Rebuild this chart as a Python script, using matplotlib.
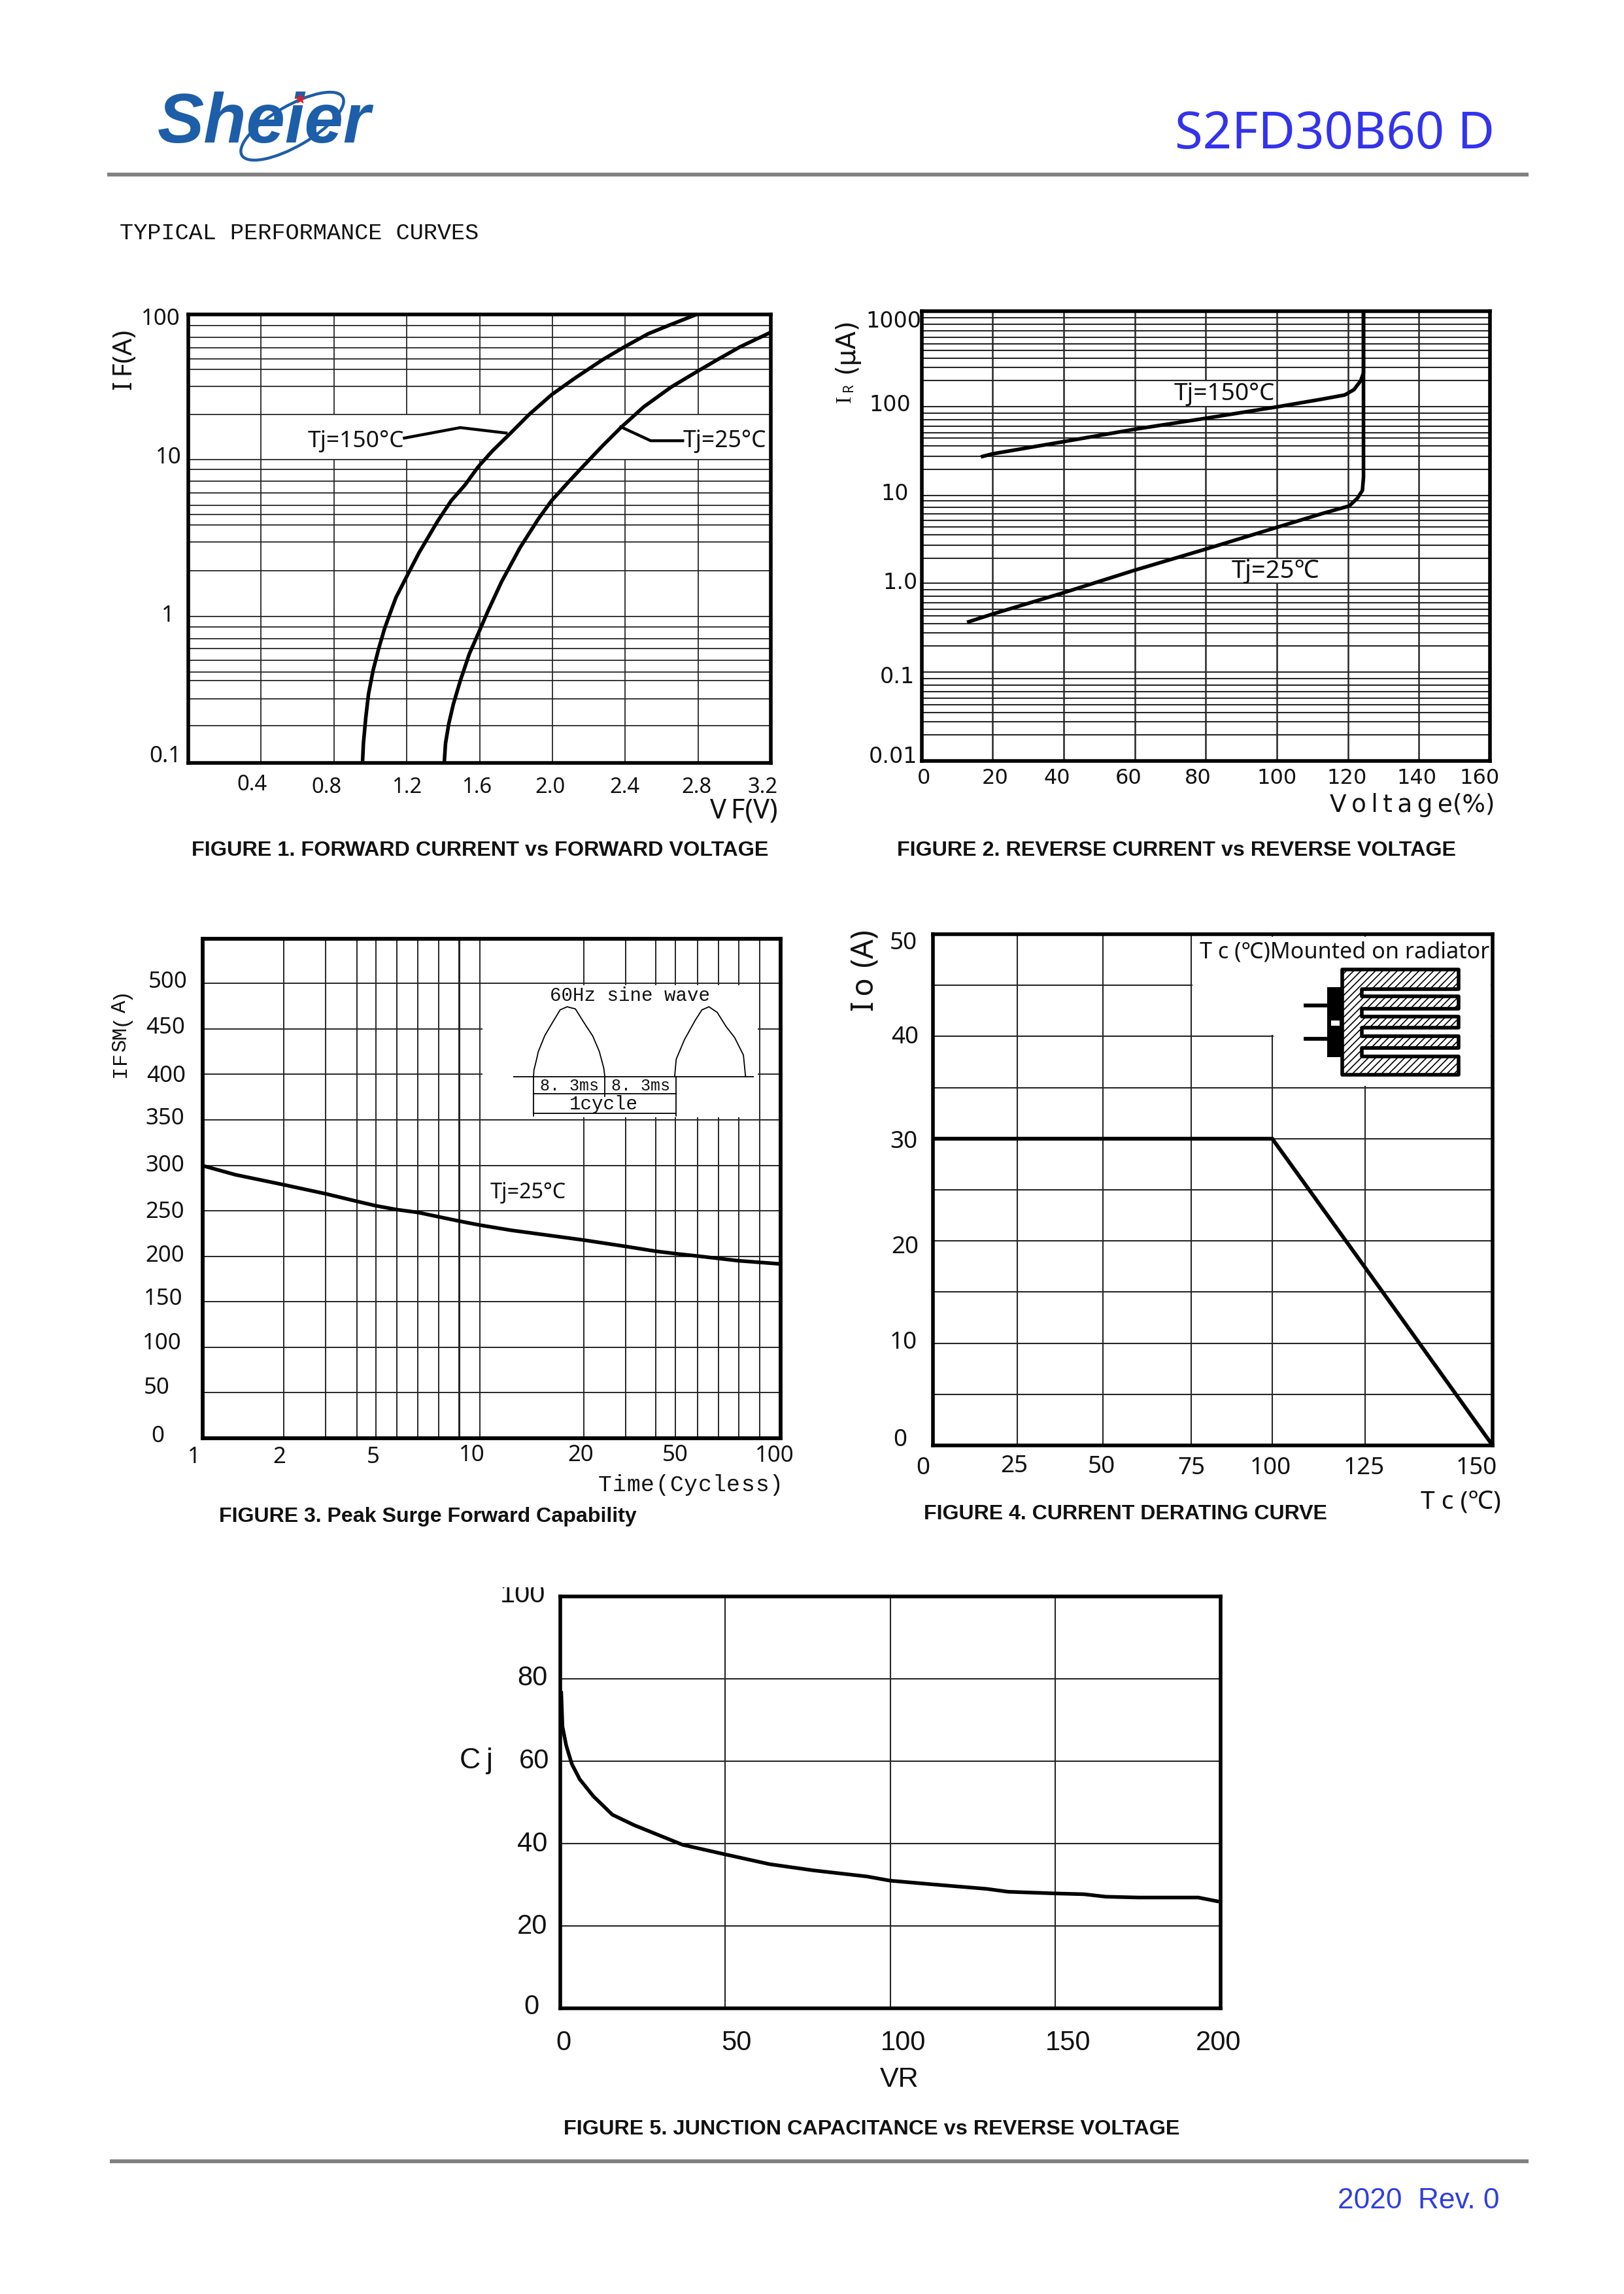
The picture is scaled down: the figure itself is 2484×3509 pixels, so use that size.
import numpy as np
import matplotlib
matplotlib.use("Agg")
import matplotlib.pyplot as plt
from matplotlib.patches import Rectangle, Ellipse, Polygon
from matplotlib.font_manager import FontProperties
from matplotlib.textpath import TextPath
from matplotlib.transforms import Affine2D, Bbox

W, H = 2484, 3509
plt.rcParams['hatch.linewidth'] = 1.2
INK = '#111111'
GRID = '#262626'
NARROW = ['Liberation Sans Narrow', 'Liberation Sans']

# ---------- Figure 1 ----------
f1_xticks = [0.4, 0.8, 1.2, 1.6, 2.0, 2.4, 2.8, 3.2]
f1_xgrid = [0.4, 0.8, 1.2, 1.6, 2.0, 2.4, 2.8]
f1_yticks = [100, 10, 1, 0.1]
f1_ygrid = [84.3, 70.2, 59.8, 50.4, 42.9, 33.0, 21.4, 10.66, 9.16, 7.64, 6.37, 5.31, 4.57, 3.89, 3.02,
            1.94, 0.957, 0.814, 0.679, 0.584, 0.487, 0.406, 0.356, 0.269, 0.178]
f1_t150_x = [.957, .962, .975, .990, 1.015, 1.046, 1.078, 1.109, 1.141, 1.197, 1.267, 1.368, 1.444, 1.519, 1.592,
             1.670, 1.771, 1.872, 1.995, 2.124, 2.275, 2.396, 2.527, 2.653, 2.792]
f1_t150_y = [.1, .135, .201, .289, .415, .582, .79, 1.006, 1.28, 1.74, 2.54, 4.11, 5.67, 7.21, 9.55, 12.2, 16.1,
             21.4, 29.0, 37.5, 49.7, 60.7, 74.3, 85.8, 100]
f1_t25_x = [1.406, 1.413, 1.431, 1.456, 1.494, 1.544, 1.592, 1.645, 1.721, 1.822, 1.922, 1.995, 2.099, 2.174,
            2.275, 2.376, 2.502, 2.653, 2.792, 2.905, 3.031, 3.2]
f1_t25_y = [.1, .135, .183, .247, .354, .537, .729, 1.03, 1.63, 2.75, 4.27, 5.67, 7.82, 9.79, 13.2, 17.5, 24.1,
            32.7, 41.3, 49.7, 60.7, 76.0]
f1_lead150_x = [1.187, 1.494, 1.746]
f1_lead150_y = [14.9, 17.5, 16.1]
f1_lead25_x = [2.716, 2.540, 2.376]
f1_lead25_y = [14.3, 14.3, 17.7]

# ---------- Figure 2 ----------
f2_xticks = [0, 20, 40, 60, 80, 100, 120, 140, 160]
f2_xgrid = [20, 40, 60, 80, 100, 120, 140]
f2_yticks = [1000, 100, 10, 1, 0.1, 0.01]
f2_ylabels = ['1000', '100', '10', '1.0', '0.1', '0.01']
f2_ygrid = [846, 716, 605, 512, 433, 366, 300, 237, 170, 86.9, 73.5, 62.2, 52.6, 44.5, 38.9, 31.8, 24.4, 17.4,
            8.93, 7.81, 6.60, 5.59, 4.72, 4.00, 3.27, 2.50, 1.79, .948, .802, .678, .574, .485, .411, .336, .266,
            .190, .0974, .0824, .0697, .0589, .0499, .0422, .0345, .0273, .0195]
f2_t150_x = [17.2, 20.1, 39.7, 60, 79.9, 100, 112.6, 119.1, 121.7, 123.6, 124.4, 124.4]
f2_t150_y = [24.3, 26, 35.3, 48.7, 64.4, 86.3, 105, 117, 134, 168, 206, 1000]
f2_t25_x = [13.3, 20.1, 39.7, 60, 79.9, 100, 112.6, 120.4, 122.7, 124.1, 124.4, 124.4]
f2_t25_y = [.353, .431, .736, 1.32, 2.26, 3.95, 5.6, 6.84, 8.35, 10.2, 14.3, 1000]

# ---------- Figure 3 ----------
f3_xticks = [1, 2, 5, 10, 20, 50, 100]
f3_xgrid = [1.904, 2.666, 3.42, 3.97, 4.70, 5.56, 6.55, 9.11, 20.9, 29.2, 37.0, 43.4, 51.6, 61.0, 71.7, 84.8]
f3_xgrid_heavy = [7.73]
f3_yticks = [500, 450, 400, 350, 300, 250, 200, 150, 100, 50, 0]
f3_cycles = [1, 1.30, 1.904, 2.666, 3.42, 3.97, 4.70, 5.56, 7.73, 9.11, 11.7, 20.9, 29.2, 37.0, 43.4, 51.6, 71.7, 100]
f3_ifsm = [299.6, 289.6, 278.7, 268.7, 260.4, 255.6, 251.3, 248.2, 238.7, 234.3, 228.6, 217.8, 210.8, 205.6,
           202.9, 200.3, 195.1, 191.6]
wave1_t = [0, .05, .36, .56, 1.32, 2.33, 3.10, 3.91, 4.87, 5.89, 6.90, 7.66, 8.17, 8.30]
wave1_a = [0, .094, .25, .36, .59, .80, .956, 1.0, .97, .77, .58, .36, .125, 0]
wave2_t = [16.42, 16.60, 17.56, 18.83, 19.59, 20.41, 21.37, 22.39, 23.40, 24.42, 24.67]
wave2_a = [0, .25, .53, .81, .956, 1.0, .92, .72, .56, .31, 0]

# ---------- Figure 4 ----------
f4_xticks = [0, 25, 50, 75, 100, 125, 150]
f4_xpixels = [1427, 1556, 1687, 1822, 1946, 2088, 2283]   # the printed axis is not evenly spaced
f4_yticks = [50, 40, 30, 20, 10, 0]
f4_ygrid = [45, 40, 35, 30, 25, 20, 15, 10, 5]
f4_tc = [0, 100, 125, 150]
f4_io = [30, 30, 17.4, 0]

# ---------- Figure 5 ----------
f5_xticks = [0, 50, 100, 150, 200]
f5_yticks = [100, 80, 60, 40, 20, 0]
f5_vr = [.3, .66, 1.8, 3.5, 5.9, 10, 15.8, 22.3, 30.6, 37.1, 49.8, 63.4, 76.6, 93, 99.9, 112.7, 129.2, 135.7,
         149.7, 158.7, 165.3, 175.2, 193.3, 199]
f5_cj = [76.6, 68.4, 63.8, 59.3, 55.6, 51.5, 47, 44.5, 41.8, 39.7, 37.4, 35, 33.5, 32, 31, 30.1, 29, 28.3, 27.9,
         27.7, 27.1, 26.9, 26.9, 26]

fig = plt.figure(figsize=(W / 100, H / 100), dpi=100, facecolor='white')


def frame_axes(left, right, top, bottom, lw=4.0):
    ax = fig.add_axes([left / W, 1 - bottom / H, (right - left) / W, (bottom - top) / H])
    for s in ax.spines.values():
        s.set_linewidth(lw)
        s.set_color('black')
        s.set_zorder(6)
    ax.tick_params(which='both', length=0, pad=0)
    ax.minorticks_off()
    return ax


def place_ticks(ax, axis, ticks, labels, centers, **font):
    """Real tick labels, each moved to where the printed label sits."""
    font.setdefault('color', INK)
    if axis == 'x':
        ax.set_xticks(ticks, labels)
        ax.xaxis.set_minor_locator(matplotlib.ticker.NullLocator())
        items = ax.get_xticklabels()
        base = ax.get_xaxis_text1_transform(0)[0]
        pts = [(v, 0) for v in ticks]
    else:
        ax.set_yticks(ticks, labels)
        ax.yaxis.set_minor_locator(matplotlib.ticker.NullLocator())
        items = ax.get_yticklabels()
        base = ax.get_yaxis_text1_transform(0)[0]
        pts = [(0, v) for v in ticks]
    for lab, pt, (cx, cy) in zip(items, pts, centers):
        bx, by = base.transform(pt)
        lab.set_transform(lab.get_transform() + Affine2D().translate(cx - bx, (H - cy - 2) - by))
        lab.set_ha('center')
        lab.set_va('center')
        lab.set(**font)
    return items


def hgrid(ax, values, lw=1.3, z=2):
    for v in values:
        ax.axhline(v, color=GRID, lw=lw, zorder=z)


def vgrid(ax, values, lw=1.3, z=1):
    for v in values:
        ax.axvline(v, color=GRID, lw=lw, zorder=z)


# ===== Figure 1 =====
ax1 = frame_axes(288, 1179, 481, 1167)
ax1.set_yscale('log')
ax1.set_xlim(0, 3.2)
ax1.set_ylim(0.1, 100)
vgrid(ax1, f1_xgrid)
hgrid(ax1, f1_ygrid)
ax1.add_patch(Rectangle((0.41, 10.66), 1.57, 10.74, fc='white', ec='none', zorder=1.5))
ax1.add_patch(Rectangle((2.02, 10.66), 1.17, 10.74, fc='white', ec='none', zorder=1.5))
ax1.plot(f1_t150_x, f1_t150_y, color='black', lw=4.0, zorder=4)
ax1.plot(f1_t25_x, f1_t25_y, color='black', lw=4.0, zorder=4)
ax1.plot(f1_lead150_x, f1_lead150_y, color='black', lw=3.2, zorder=4)
ax1.plot(f1_lead25_x, f1_lead25_y, color='black', lw=3.2, zorder=4)
place_ticks(ax1, 'x', f1_xticks, [f'{v:.1f}' for v in f1_xticks],
            [(385, 1198), (499, 1202), (622, 1202), (729, 1202), (841, 1202), (955, 1202), (1065, 1202), (1167, 1202)],
            family='Noto Sans', fontsize=23.5)
place_ticks(ax1, 'y', f1_yticks, ['100', '10', '1', '0.1'],
            [(246, 486), (258, 698), (257, 940), (253, 1155)], family='Noto Sans', fontsize=25)

# ===== Figure 2 =====
ax2 = frame_axes(1409.5, 2279, 476, 1164)
ax2.set_yscale('log')
ax2.set_xlim(0, 160)
ax2.set_ylim(0.01, 1000)
vgrid(ax2, f2_xgrid, lw=1.8)
hgrid(ax2, f2_ygrid, lw=1.5)
# the printed grid is left open behind the two temperature labels
ax2.add_patch(Rectangle((71, 86.9), 28.4, 83.1, fc='white', ec='none', zorder=1.5))
ax2.add_patch(Rectangle((87.5, .948), 24.5, .842, fc='white', ec='none', zorder=1.5))
ax2.plot(f2_t150_x, f2_t150_y, color='black', lw=4.0, zorder=4)
ax2.plot(f2_t25_x, f2_t25_y, color='black', lw=4.0, zorder=4)
place_ticks(ax2, 'x', f2_xticks, [str(v) for v in f2_xticks],
            [(1413, 1188), (1522, 1188), (1617, 1188), (1726, 1188), (1832, 1188), (1953, 1188), (2060, 1188),
             (2167, 1188), (2263, 1188)], family='DejaVu Sans', fontsize=23)
place_ticks(ax2, 'y', f2_yticks, f2_ylabels,
            [(1367, 489), (1361, 617), (1369, 753), (1377, 889), (1372, 1033), (1366, 1155)],
            family='DejaVu Sans', fontsize=24)

# ===== Figure 3 =====
ax3 = frame_axes(310, 1193.5, 1436, 2200, lw=4.2)
ax3.set_xscale('log')
ax3.set_xlim(1, 100)
ax3.set_ylim(0, 549)
vgrid(ax3, f3_xgrid, lw=1.4)
vgrid(ax3, f3_xgrid_heavy, lw=2.2)
hgrid(ax3, [v for v in f3_yticks if v > 0], lw=1.4)
ax3.add_patch(Rectangle((9.3, 353), 74.4, 145, fc='white', ec='none', zorder=3))
ax3.plot(f3_cycles, f3_ifsm, color='black', lw=4.0, zorder=4)
place_ticks(ax3, 'x', f3_xticks, [str(v) for v in f3_xticks],
            [(297, 2227), (427, 2227), (571, 2227), (722, 2224), (888, 2224), (1033, 2224), (1185, 2225)],
            family='Noto Sans', fontsize=25)
place_ticks(ax3, 'y', f3_yticks, [str(v) for v in f3_yticks],
            [(257, 1500), (253, 1570), (254, 1644), (252, 1709), (252, 1781), (252, 1852), (252, 1919), (250, 1985),
             (248, 2053), (240, 2121), (241, 2195)], family='Noto Sans', fontsize=25)

# ===== Figure 4 =====
ax4 = frame_axes(1427, 2283, 1429, 2211)
ax4.set_xscale('function', functions=(lambda v: np.interp(v, f4_xticks, f4_xpixels),
                                      lambda p: np.interp(p, f4_xpixels, f4_xticks)))
ax4.set_xlim(0, 150)
ax4.set_ylim(0, 50)
vgrid(ax4, f4_xticks[1:-1], lw=1.5)
hgrid(ax4, f4_ygrid, lw=1.5)
ax4.add_patch(Rectangle((100.4, 35.15), 49.2, 14.6, fc='white', ec='none', zorder=3))
ax4.add_patch(Rectangle((75.4, 40.15), 25.2, 9.6, fc='white', ec='none', zorder=3))
ax4.plot(f4_tc, f4_io, color='black', lw=4.2, zorder=4, solid_joinstyle='miter')
place_ticks(ax4, 'x', f4_xticks, [str(v) for v in f4_xticks],
            [(1412, 2244), (1551, 2241), (1685, 2242), (1822, 2244), (1943, 2244), (2086, 2244), (2258, 2244)],
            family='Noto Sans', fontsize=26.5)
place_ticks(ax4, 'y', f4_yticks, [str(v) for v in f4_yticks],
            [(1382, 1441), (1384, 1585), (1382, 1745), (1384, 1906), (1382, 2052), (1377, 2201)],
            family='Noto Sans', fontsize=26.5)

# ===== Figure 5 =====
ax5 = frame_axes(857, 1866.6, 2442, 3072)
ax5.set_xlim(0, 200)
ax5.set_ylim(0, 100)
vgrid(ax5, f5_xticks[1:-1], lw=1.5)
hgrid(ax5, f5_yticks[1:-1], lw=1.5)
ax5.plot(f5_vr, f5_cj, color='black', lw=4.0, zorder=4)
place_ticks(ax5, 'x', f5_xticks, [str(v) for v in f5_xticks],
            [(862, 3123), (1126, 3123), (1382, 3123), (1634, 3123), (1864, 3123)],
            family=NARROW, fontsize=30)
ylabs = place_ticks(ax5, 'y', f5_yticks, [str(v) for v in f5_yticks],
                    [(800, 2438), (814, 2565), (817, 2692), (814, 2819), (814, 2945), (813, 3068)],
                    family=NARROW, fontsize=30)
ylabs[0].set_clip_on(True)
ylabs[0].set_clip_box(Bbox([[0, 0], [W, H - 2428]]))

# ===== Page layer: header, footer, captions, axis titles =====
page = fig.add_axes([0, 0, 1, 1], facecolor='none', zorder=20)
page.set_xlim(0, W)
page.set_ylim(H, 0)
page.axis('off')


def T(s, x, y, size=None, width=None, family='Liberation Sans', weight='normal', style='normal',
      color=INK, rot=0, ha='center', va='center'):
    fp = FontProperties(family=family, weight=weight, style=style)
    if width is not None:
        w = TextPath((0, 0), s, size=100, prop=fp).get_extents().width
        size = 100 * width / w * 72 / 100
    return page.text(x, y, s, fontproperties=fp, fontsize=size, color=color, rotation=rot, ha=ha, va=va)


def spaced(s, start, end, across, size, family='Liberation Mono', vertical=False):
    """Letter-spaced text as in the reference: one real text per character."""
    steps = np.linspace(start, end, len(s) + 1)
    for ch, a, b in zip(s, steps[:-1], steps[1:]):
        mid = (a + b) / 2
        if vertical:
            T(ch, across, mid, size=size, family=family, rot=90)
        else:
            T(ch, mid, across, size=size, family=family)


# rules
page.plot([164, 2338], [267.5, 267.5], color='#808080', lw=4.2, solid_capstyle='butt')
page.plot([168, 2338], [3306, 3306], color='#808080', lw=4.2, solid_capstyle='butt')

# logo
page.add_patch(Ellipse((447, 193), 178, 62, angle=-30, fc='none', ec='#1d5ea8', lw=3.2, zorder=1))
T('Sheier', 404, 190, width=330, weight='bold', style='italic', color='#1d5ea8')
page.scatter([459], [151], marker='*', s=110, color='#d8232a', zorder=5)

# header / footer text
T('S2FD30B60 D', 2042, 207, width=481, family='Noto Sans', color='#3333ee')
T('2020  Rev. 0', 2170, 3366, width=244, color='#2f3fe0')
T('TYPICAL PERFORMANCE CURVES', 458, 357, width=547, family='Liberation Mono')

# captions
T('FIGURE 1. FORWARD CURRENT vs FORWARD VOLTAGE', 734, 1301, width=880, weight='bold')
T('FIGURE 2. REVERSE CURRENT vs REVERSE VOLTAGE', 1800, 1301, width=851, weight='bold')
T('FIGURE 3. Peak Surge Forward Capability', 654, 2320, width=636, weight='bold')
T('FIGURE 4. CURRENT DERATING CURVE', 1721, 2316, width=616, weight='bold')
T('FIGURE 5. JUNCTION CAPACITANCE vs REVERSE VOLTAGE', 1333, 3257, width=938, weight='bold')

# figure 1 text
T('I\u2009F(A)', 192, 551, width=89, family='Noto Sans', rot=90)
T('V\u2009F(V)', 1138, 1240, width=102, family='Noto Sans')
T('Tj=150°C', 544, 675, width=146, family='Noto Sans')
T('Tj=25°C', 1108, 675, width=126, family='Noto Sans')

# figure 2 text
T('I', 1292, 610, size=24, family='Liberation Serif', rot=90)
T('R', 1298, 593, size=15, family='Noto Sans', rot=90)
T('(μA)', 1295, 529, width=78, family='DejaVu Sans', rot=90)
T('V\u2009o\u2009l\u2009t\u2009a\u2009g\u2009e(%)', 2160, 1231, width=249, family='DejaVu Sans')
T('Tj=150°C', 1873, 603, width=153, family='Noto Sans')
T('Tj=25℃', 1951, 874, width=133, family=['Noto Sans', 'Noto Sans CJK SC'])

# figure 3 text
spaced('IFSM(A)', 1648, 1510, 184, 23, vertical=True)
spaced('Time(Cycless)', 914, 1198, 2271, 25)
T('Tj=25°C', 808, 1824, width=115, family='Noto Sans')

# figure 4 text
T('I\u2009o\u2009\u2009(A)', 1323, 1485, width=121, family='Noto Sans', rot=90)
T('T c (℃)', 2234, 2297, width=121, family=['Noto Sans', 'Noto Sans CJK SC'])
T('T c (℃)Mounted on radiator', 2057, 1456, width=442, family=['Noto Sans', 'Noto Sans CJK SC'])

# figure 5 text
T('VR', 1376, 3181, size=31, family=NARROW)
T('C\u2009j', 728, 2693, size=32, family=NARROW)

# radiator sketch of figure 4 (outline taken from the printed symbol)
rad_x = [278, 812, 812, 370, 370, 812, 812, 370, 370, 812, 812, 370, 370, 812, 812, 370, 370, 812, 812, 278]
rad_y = [38, 38, 128, 128, 162, 162, 218, 218, 255, 255, 305, 305, 345, 345, 400, 400, 438, 438, 522, 522]
rad_pts = np.column_stack([1960 + np.array(rad_x) / 3, 1470 + np.array(rad_y) / 3])
page.add_patch(Polygon(rad_pts, closed=True, fc='white', ec='black', lw=4.0, hatch='///', joinstyle='round'))
page.add_patch(Rectangle((1960 + 210 / 3, 1470 + 120 / 3), 68 / 3, 322 / 3, fc='black', ec='none'))
page.add_patch(Rectangle((1960 + 228 / 3, 1470 + 272 / 3), 40 / 3, 25 / 3, fc='white', ec='none'))
for yy in (205, 357):
    page.plot([1960 + 110 / 3, 1960 + 210 / 3], [1470 + yy / 3] * 2, color='black', lw=4.2)

# half-sine sketch of figure 3
ins = fig.add_axes([785 / W, 1 - 1720 / H, (1153 - 785) / W, (1720 - 1500) / H], facecolor='none', zorder=21)
ins.set_xlim(-2.36, 25.63)
ins.set_ylim(-.682, 1.374)
ins.axis('off')
for tt, aa in ((wave1_t, wave1_a), (wave2_t, wave2_a)):
    ins.plot(tt, aa, color='black', lw=1.3)
ins.plot([-2.36, 25.63], [0, 0], color='black', lw=1.3)
ins.plot([0, 0], [0, -.5625], color='black', lw=1.3)
ins.plot([8.3, 8.3], [0, -.28], color='black', lw=1.3)
ins.plot([16.6, 16.6], [0, -.5625], color='black', lw=1.3)
ins.plot([0, 16.6], [-.244, -.244], color='black', lw=1.3)
ins.plot([0, 16.6], [-.525, -.525], color='black', lw=1.3)
ins.text(4.15, -.135, '8. 3ms', family='Liberation Mono', fontsize=18, ha='center', va='center', color=INK)
ins.text(12.45, -.135, '8. 3ms', family='Liberation Mono', fontsize=18, ha='center', va='center', color=INK)
ins.text(8.2, -.39, '1cycle', family='Liberation Mono', fontsize=21, ha='center', va='center', color=INK)
ins.text(11.2, 1.16, '60Hz sine wave', family='Liberation Mono', fontsize=21, ha='center', va='center', color=INK)

fig.savefig('out.png', dpi=100, facecolor='white')
